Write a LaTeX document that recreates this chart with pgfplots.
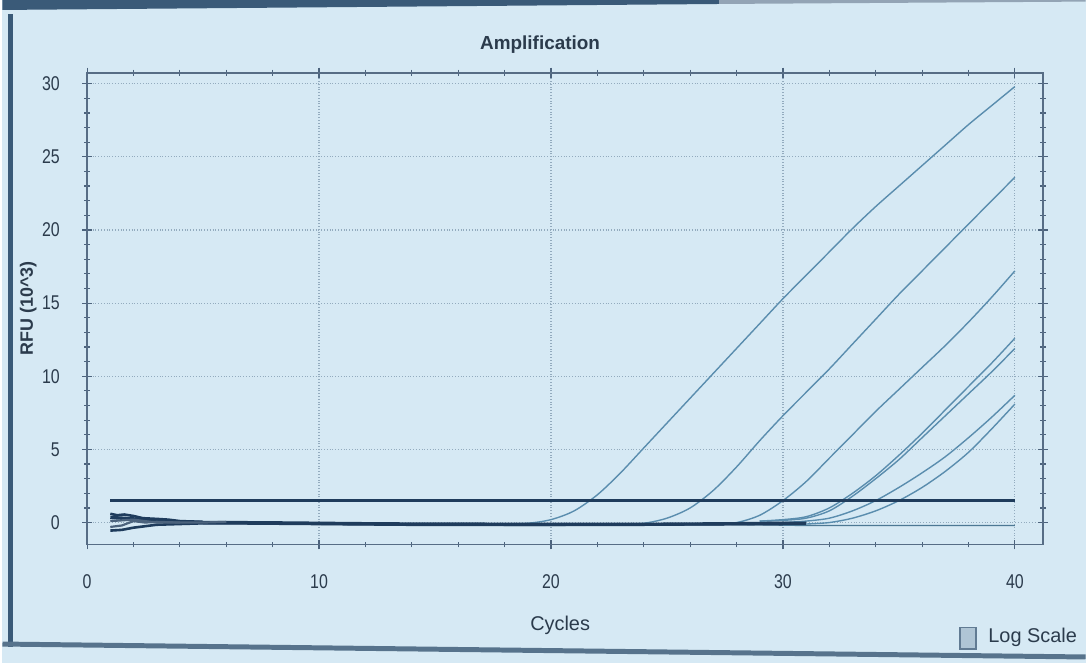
\documentclass[border=0pt]{standalone}
\usepackage{pgfplots}
\pgfplotsset{compat=1.18}
\usepackage{fontspec}
\setmainfont{Liberation Sans}
\newfontfamily\narrowfont[FakeStretch=0.8]{Liberation Sans}
\definecolor{bg}{HTML}{D6E9F4}
\definecolor{curve}{HTML}{5A8DAE}
\definecolor{dark}{HTML}{1F3C5C}
\definecolor{txt}{HTML}{2B3B4C}
\definecolor{gridc}{HTML}{93ABBE}
\definecolor{frame}{HTML}{3A5A78}
\begin{document}
\begin{tikzpicture}
\fill[bg] (0pt,0pt) rectangle (544pt,333pt);
\fill[frame] (0pt,333pt) -- (360pt,333pt) -- (360pt,331pt) -- (0pt,328pt) -- cycle;
\fill[frame!55] (360pt,333pt) -- (544pt,333pt) -- (544pt,332.2pt) -- (360pt,331pt) -- cycle;
\fill[frame] (3pt,8pt) rectangle (5.5pt,326pt);
\draw[frame!85, line width=2.5pt] (0pt,9.5pt) -- (544pt,3pt);
\begin{axis}[
  at={(42.5pt,59.5pt)}, anchor=south west,
  scale only axis, width=480pt, height=237pt,
  xmin=0, xmax=41.2, ymin=-1.5, ymax=30.75,
  xtick={0,10,20,30,40}, ytick={0,5,10,15,20,25,30},
  minor x tick num=4, minor y tick num=4,
  tick align=center,
  major tick length=5pt, minor tick length=3pt,
  tick style={dark!80, line width=0.6pt},
  axis line style={draw=dark!75, line width=0.9pt},
  grid=major,
  major grid style={densely dotted, gridc, line width=0.6pt},
  /pgf/number format/assume math mode=true,
  ticklabel style={font=\narrowfont\fontsize{10}{12}\selectfont, text=txt},
  xticklabel style={anchor=center, yshift=-16pt},
  yticklabel style={anchor=east, inner sep=0pt, xshift=-11pt},
  title={Amplification},
  title style={at={(axis description cs:0.474,1.034)}, anchor=center, font=\bfseries\fontsize{9.5}{11}\selectfont, text=txt},
  xlabel={Cycles},
  xlabel style={at={(axis description cs:0.495,-0.172)}, anchor=center, font=\fontsize{10}{12}\selectfont, text=txt},
  ylabel={RFU (10\textasciicircum 3)},
  ylabel style={at={(axis description cs:-0.0615,0.5)}, anchor=center, font=\bfseries\fontsize{9}{11}\selectfont, text=txt},
  clip=false,
]
% amplification curves
\addplot[curve, line width=0.7pt, smooth] coordinates {(18,-0.1)(19,-0.05)(20,0.2)(21,0.8)(22,1.9)(23,3.4)(24,5.1)(25,6.8)(26,8.5)(27,10.2)(28,11.9)(29,13.6)(30,15.3)(31,16.9)(32,18.5)(33,20.1)(34,21.6)(35,23.0)(36,24.4)(37,25.8)(38,27.2)(39,28.5)(40,29.8)};
\addplot[curve, line width=0.7pt, smooth] coordinates {(23,-0.1)(24,-0.05)(25,0.3)(26,1.0)(27,2.2)(28,3.8)(29,5.6)(30,7.3)(31,8.9)(32,10.5)(33,12.2)(34,13.9)(35,15.6)(36,17.2)(37,18.8)(38,20.4)(39,22.0)(40,23.6)};
\addplot[curve, line width=0.7pt, smooth] coordinates {(27,-0.1)(28,0.0)(29,0.5)(30,1.5)(31,2.8)(32,4.4)(33,6.0)(34,7.6)(35,9.1)(36,10.6)(37,12.1)(38,13.7)(39,15.4)(40,17.2)};
\addplot[curve, line width=0.7pt, smooth] coordinates {(29,0.1)(30,0.2)(31,0.4)(32,1.0)(33,2.0)(34,3.2)(35,4.6)(36,6.1)(37,7.7)(38,9.3)(39,10.9)(40,12.6)};
\addplot[curve, line width=0.7pt, smooth] coordinates {(29,0.1)(30,0.15)(31,0.3)(32,0.8)(33,1.8)(34,3.0)(35,4.3)(36,5.8)(37,7.3)(38,8.8)(39,10.3)(40,11.9)};
\addplot[curve, line width=0.7pt, smooth] coordinates {(30,0.0)(31,0.1)(32,0.3)(33,0.8)(34,1.5)(35,2.4)(36,3.4)(37,4.5)(38,5.8)(39,7.2)(40,8.7)};
\addplot[curve, line width=0.7pt, smooth] coordinates {(31,-0.1)(32,0.0)(33,0.3)(34,0.8)(35,1.5)(36,2.4)(37,3.5)(38,4.8)(39,6.4)(40,8.1)};
% low flat line
\addplot[curve!85!black, line width=0.7pt] coordinates {(27,-0.1)(29,-0.15)(31,-0.2)(34,-0.2)(37,-0.2)(40,-0.2)};
% baselines
\addplot[dark, line width=1.7pt] coordinates {(1,0.35)(1.5,0.3)(2,0.25)(2.5,0.15)(3,0.1)(4,0.05)(5,0.0)(6,0.0)(8,-0.02)(10,-0.05)(12,-0.08)(14,-0.1)(16,-0.1)(18,-0.12)(20,-0.12)(22,-0.12)(24,-0.12)(26,-0.1)(28,-0.08)(30,-0.05)(31,-0.05)};
\addplot[dark, line width=1.3pt] coordinates {(1,-0.55)(1.5,-0.5)(2,-0.35)(2.5,-0.25)(3,-0.15)(4,-0.1)(5,-0.05)(6,-0.05)(10,-0.1)(14,-0.15)(20,-0.15)(26,-0.12)(30,-0.1)};
\addplot[dark, line width=1.3pt] coordinates {(1,0.6)(1.3,0.5)(1.6,0.55)(2,0.45)(2.4,0.3)(3,0.25)(3.5,0.2)(4,0.1)(5,0.05)};
\addplot[dark!80, line width=1.1pt] coordinates {(1,-0.3)(1.5,-0.2)(2,0.1)(2.5,0.0)(3,0.05)(4,0.0)};
\addplot[dark!80, line width=1.1pt] coordinates {(1,0.1)(2,0.2)(3,0.0)(5,0.0)(6,0.05)};
% threshold
\addplot[dark, line width=1.5pt] coordinates {(1,1.5)(40,1.5)};
\end{axis}
\draw[frame!80, fill=frame!25!bg, line width=0.6pt] (481pt,7pt) rectangle (489pt,18pt);
\node[anchor=west, inner sep=0pt, text=txt, font=\fontsize{10}{12}\selectfont] at (495pt,13pt) {Log Scale};
\end{tikzpicture}
\end{document}
